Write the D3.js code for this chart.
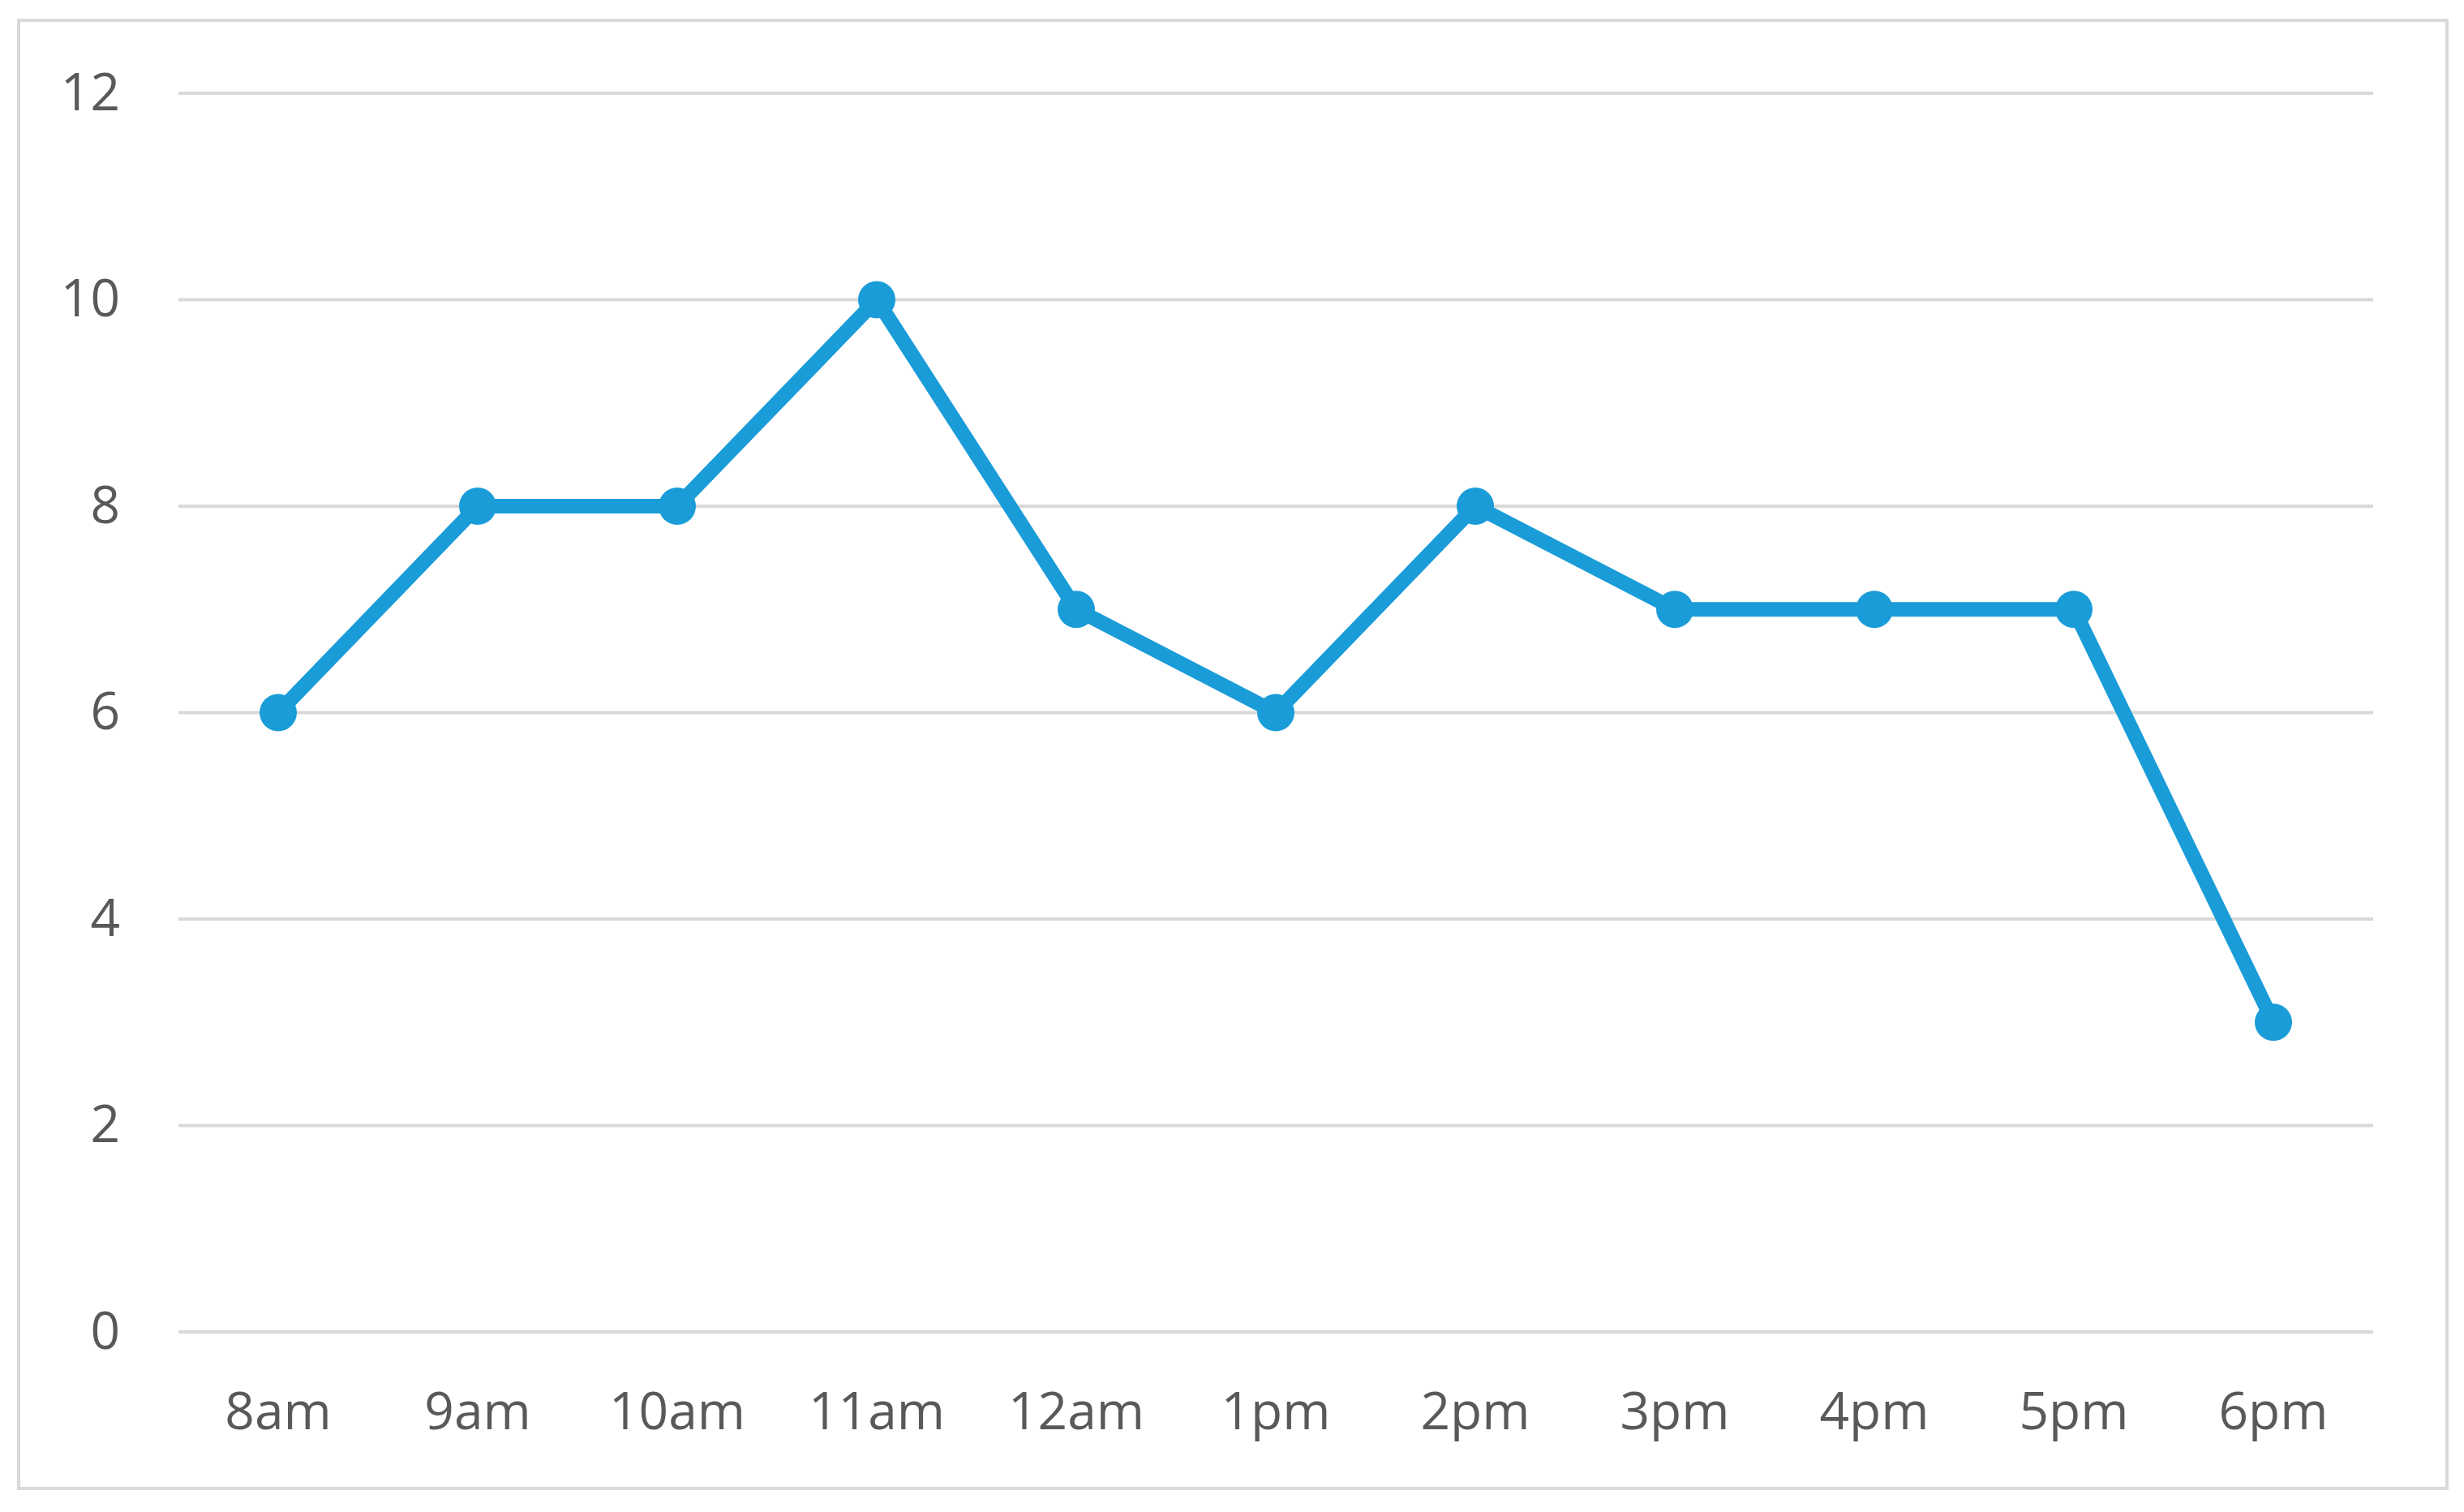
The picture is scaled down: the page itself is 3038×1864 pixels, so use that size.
<!DOCTYPE html>
<html>
<head>
<meta charset="utf-8">
<script src="https://cdn.jsdelivr.net/npm/d3@7"></script>
<style>
  body { margin: 0; background: #fff; }
  .axis text { font-family: "Open Sans", sans-serif; font-size: 64px; fill: #595959; }
  .grid line { stroke: #d9d9d9; stroke-width: 4; }
</style>
</head>
<body>
<div id="chart"></div>
<script>
var hours = ["8am", "9am", "10am", "11am", "12am", "1pm", "2pm", "3pm", "4pm", "5pm", "6pm"];
var counts = [6, 8, 8, 10, 7, 6, 8, 7, 7, 7, 3];
var yTicks = [0, 2, 4, 6, 8, 10, 12];

var W = 3038, H = 1864,
    margin = {left: 220, right: 112, top: 115, bottom: 222},
    width = W - margin.left - margin.right,
    height = H - margin.top - margin.bottom;

var data = hours.map(function (h, i) { return {hour: h, value: counts[i]}; });

var svg = d3.select("#chart").append("svg")
    .attr("width", W)
    .attr("height", H);

// outer frame
svg.append("rect")
    .attr("x", 23).attr("y", 25)
    .attr("width", 3017 - 23).attr("height", 1835 - 25)
    .attr("fill", "none")
    .attr("stroke", "#d9d9d9")
    .attr("stroke-width", 4);

var g = svg.append("g")
    .attr("transform", "translate(" + margin.left + "," + margin.top + ")");

var x = d3.scaleBand().domain(hours).range([0, width]);
var y = d3.scaleLinear().domain([0, 12]).range([height, 0]);

g.append("g")
    .attr("class", "grid")
    .selectAll("line")
    .data(yTicks)
  .enter().append("line")
    .attr("x1", 0).attr("x2", width)
    .attr("y1", function (d) { return y(d); })
    .attr("y2", function (d) { return y(d); });

var yAxis = d3.axisLeft(y).tickValues(yTicks).tickSize(0).tickPadding(72);
g.append("g")
    .attr("class", "y axis")
    .call(yAxis)
    .call(function (s) { s.select(".domain").remove(); });

var xAxis = d3.axisBottom(x).tickSize(0).tickPadding(75);
g.append("g")
    .attr("class", "x axis")
    .attr("transform", "translate(0," + height + ")")
    .call(xAxis)
    .call(function (s) { s.select(".domain").remove(); });

var cx = function (d) { return x(d.hour) + x.bandwidth() / 2; };

var line = d3.line()
    .x(cx)
    .y(function (d) { return y(d.value); });

g.append("path")
    .datum(data)
    .attr("fill", "none")
    .attr("stroke", "#1a9cd9")
    .attr("stroke-width", 18)
    .attr("stroke-linejoin", "round")
    .attr("d", line);

g.selectAll(".dot")
    .data(data)
  .enter().append("circle")
    .attr("class", "dot")
    .attr("cx", cx)
    .attr("cy", function (d) { return y(d.value); })
    .attr("r", 23)
    .attr("fill", "#1a9cd9");
</script>
</body>
</html>
